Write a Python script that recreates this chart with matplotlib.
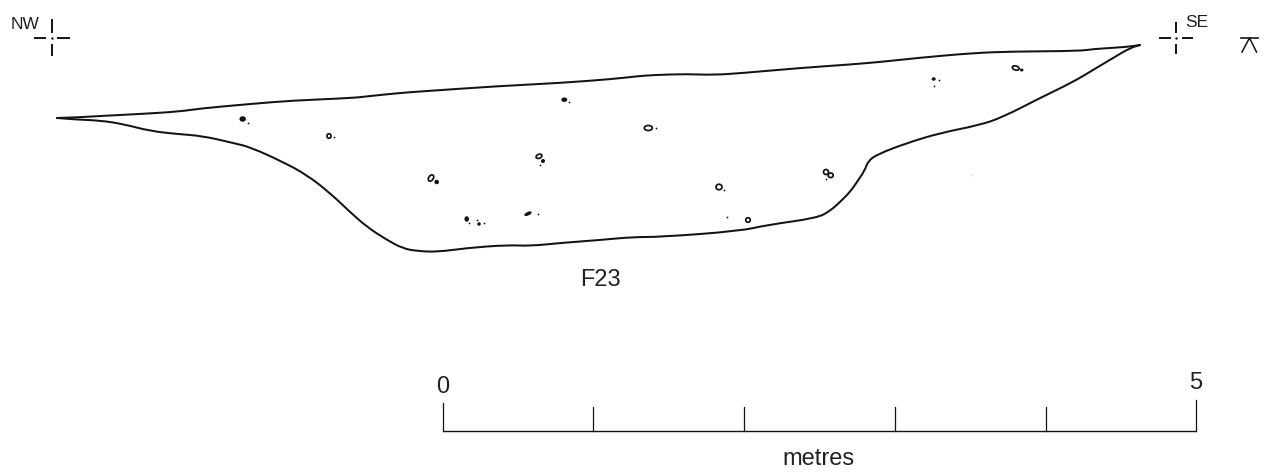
import matplotlib
matplotlib.use("Agg")
import matplotlib.pyplot as plt
from matplotlib.patches import Ellipse, PathPatch
from matplotlib.path import Path

plt.rcParams['font.family'] = ['Liberation Sans', 'DejaVu Sans']

# Outline of the section (reference pixel positions)
top_x = [57, 75, 100, 140, 180, 200, 250, 293, 353, 370, 400, 420, 500, 560, 613, 635, 653, 687, 713, 743, 800, 850, 880, 917, 973, 1013, 1080, 1093, 1127, 1140]
top_y = [118, 117.5, 116, 114, 111.5, 108.5, 104, 100.5, 98, 96, 93, 91.5, 86, 83, 79, 76.5, 75, 74, 75, 73, 68, 64.5, 62, 58, 53, 51.5, 51, 49, 47, 45]
bottom_x = [57, 75, 100, 123, 150, 177, 203, 233, 250, 283, 307, 330, 350, 367, 387, 403, 417, 437, 467, 507, 530, 560, 600, 633, 660, 740, 767, 817, 830, 840, 850, 857, 865, 868, 878, 907, 940, 980, 1003, 1040, 1073, 1093, 1113, 1130, 1140]
bottom_y = [118, 119.5, 120.5, 124, 131, 134, 136, 143, 147, 162, 175, 193, 212, 227, 240, 248.5, 251, 252, 248, 245, 246, 243, 240, 237, 237, 231, 225, 218, 211, 202, 192, 182, 170, 161, 154, 143, 133, 125, 117, 98, 82, 70, 58, 48, 45]

# Inclusions: x, y, width, height, angle
filled_x = [242.7, 564.3, 543, 436.7, 466.7, 479, 528, 933.7, 1021.7]
filled_y = [119, 99.7, 161, 182, 219, 224, 213.7, 79, 70]
filled_w = [6.5, 6, 4, 4.5, 4.5, 3.5, 8, 4, 3.5]
filled_h = [5.5, 4.5, 4, 4.5, 5.5, 3.5, 3.5, 3.5, 3]
filled_a = [0, 0, 0, 0, 0, 0, -25, 0, 0]
open_x = [329, 648.3, 539, 431, 719, 826, 830.7, 748, 1015.7]
open_y = [136, 128, 156.3, 178, 187, 172, 175.3, 220, 68]
open_w = [4, 8, 6, 7, 6, 5, 5, 4.5, 7]
open_h = [4.5, 5, 4, 4.5, 5.5, 5, 4.5, 4.5, 4]
open_a = [0, 0, -20, -55, 0, 20, 0, 0, 15]
dot_x = [248, 334, 569.3, 655.7, 540, 723.7, 825.7, 469, 476.7, 484, 538, 726.7, 939, 933.7]
dot_y = [123, 136.5, 102.3, 128.3, 165, 190.3, 179.3, 222.7, 220.3, 222.7, 214, 217.3, 79.7, 86]
faint_x = [972]
faint_y = [175]

# Scale bar
scale_ticks = [443, 593, 744, 895, 1046, 1196]
scale_tops = [403, 407, 407, 407, 407, 400]
scale_base = 431
scale_labels = ["0", "5"]

INK = "#141213"
fig = plt.figure(figsize=(12.73, 4.74), dpi=100)
ax = fig.add_axes([0, 0, 1, 1])
ax.set_xlim(0, 1273)
ax.set_ylim(474, 0)
ax.axis("off")


def smooth_outline(xs, ys, lw):
    pts = list(zip(xs, ys))
    verts = [pts[0]]
    codes = [Path.MOVETO]
    for i in range(1, len(pts) - 1):
        mid = ((pts[i][0] + pts[i + 1][0]) / 2, (pts[i][1] + pts[i + 1][1]) / 2)
        verts += [pts[i], mid]
        codes += [Path.CURVE3, Path.CURVE3]
    verts.append(pts[-1])
    codes.append(Path.LINETO)
    ax.add_patch(PathPatch(Path(verts, codes), facecolor="none", edgecolor=INK, lw=lw, capstyle="round", joinstyle="round"))


smooth_outline(top_x, top_y, 1.45)
smooth_outline(bottom_x, bottom_y, 1.45)

for x, y, w, h, a in zip(filled_x, filled_y, filled_w, filled_h, filled_a):
    ax.add_patch(Ellipse((x, y), w, h, angle=a, facecolor=INK, edgecolor="none"))
for x, y, w, h, a in zip(open_x, open_y, open_w, open_h, open_a):
    ax.add_patch(Ellipse((x, y), w, h, angle=a, facecolor="none", edgecolor=INK, lw=1.25))
ax.scatter(dot_x, dot_y, s=1.6, color=INK, linewidths=0)
ax.scatter(faint_x, faint_y, s=1, color="#cccccc", linewidths=0)


def cross(cx, cy, hl, hr, vt, vb, gap):
    kw = dict(color=INK, lw=1.4, solid_capstyle="butt")
    ax.plot([cx - hl, cx - gap], [cy, cy], **kw)
    ax.plot([cx + gap, cx + hr], [cy, cy], **kw)
    ax.plot([cx, cx], [cy - vt, cy - gap], **kw)
    ax.plot([cx, cx], [cy + gap, cy + vb], **kw)
    ax.scatter([cx], [cy], s=3, color=INK, linewidths=0)


cross(51.5, 38, 18, 18, 19, 18, 5.5)
cross(1176, 38, 17, 17, 16, 16, 5.5)

ax.plot([1241, 1258], [38, 38], color=INK, lw=1.2)
ax.plot([1242, 1249.5, 1256.5], [52, 38, 52], color=INK, lw=1.1)

ax.plot([scale_ticks[0], scale_ticks[-1]], [scale_base, scale_base], color=INK, lw=1.0)
for x, t in zip(scale_ticks, scale_tops):
    ax.plot([x, x], [t, scale_base], color=INK, lw=0.9)

txt = dict(color="#231f20", ha="center", va="baseline")
ax.text(443, 393, scale_labels[0], fontsize=17, **txt)
ax.text(1196, 389, scale_labels[1], fontsize=17, **txt)
ax.text(819, 465, "metres", fontsize=17, **txt)
ax.text(600.5, 286, "F23", fontsize=17, **txt)
ax.text(25, 29, "NW", fontsize=12.5, **txt)
ax.text(1197, 27, "SE", fontsize=12.5, **txt)

fig.savefig("out.png", dpi=100, facecolor="white")
